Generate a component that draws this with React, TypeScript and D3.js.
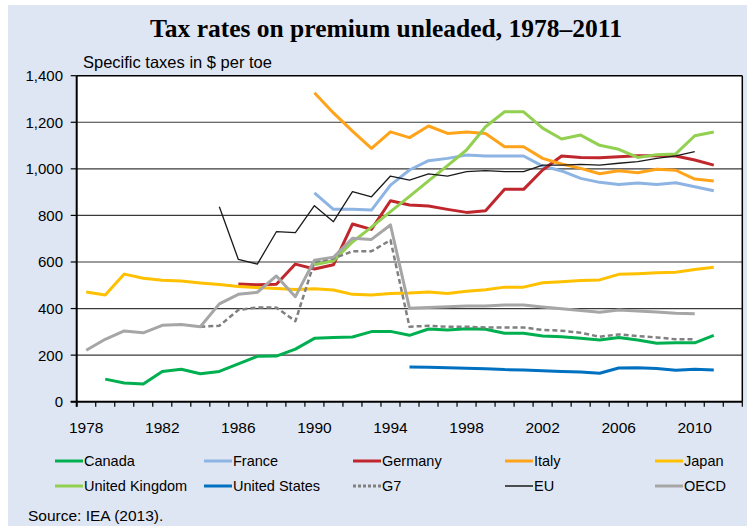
import React from "react"
import * as d3 from "d3"

const years = [
  1978, 1979, 1980, 1981, 1982, 1983, 1984, 1985, 1986, 1987, 1988, 1989,
  1990, 1991, 1992, 1993, 1994, 1995, 1996, 1997, 1998, 1999, 2000, 2001,
  2002, 2003, 2004, 2005, 2006, 2007, 2008, 2009, 2010, 2011,
]
const tickYears = [1978, 1982, 1986, 1990, 1994, 1998, 2002, 2006, 2010]
const yTicks = [0, 200, 400, 600, 800, 1000, 1200, 1400]

// specific taxes, $ per toe (null = no data)
const canada = [null, 97, 80, 76, 130, 139, 120, 130, 162, 195, 196, 226, 272, 276, 278, 301, 302, 285, 312, 308, 313, 311, 294, 294, 282, 279, 272, 265, 276, 265, 251, 253, 253, 285]
const france = [null, null, null, null, null, null, null, null, null, null, null, null, 897, 826, 826, 823, 930, 995, 1035, 1045, 1059, 1055, 1055, 1055, 1012, 991, 959, 942, 933, 939, 933, 940, 923, 906]
const germany = [null, null, null, null, null, null, null, null, 505, 502, 504, 591, 570, 588, 763, 740, 863, 845, 840, 826, 813, 820, 912, 912, 995, 1055, 1049, 1048, 1052, 1056, 1056, 1055, 1038, 1016]
const italy = [null, null, null, null, null, null, null, null, null, null, null, null, 1327, 1240, 1162, 1088, 1159, 1134, 1184, 1152, 1158, 1152, 1095, 1095, 1045, 1021, 1002, 979, 992, 983, 998, 994, 956, 948]
const japan = [471, 458, 548, 530, 522, 518, 510, 503, 495, 490, 486, 482, 485, 480, 461, 458, 465, 467, 471, 465, 474, 481, 492, 492, 511, 515, 520, 523, 547, 550, 554, 556, 568, 577]
const uk = [null, null, null, null, null, null, null, null, null, null, null, null, 588, 605, 686, 750, 816, 882, 948, 1014, 1081, 1181, 1245, 1245, 1175, 1128, 1145, 1101, 1084, 1049, 1061, 1064, 1142, 1158]
const us = [null, null, null, null, null, null, null, null, null, null, null, null, null, null, null, null, null, 149, 148, 146, 144, 142, 138, 136, 133, 130, 128, 122, 145, 146, 143, 135, 139, 136]
const g7 = [null, null, null, null, null, null, 322, 326, 394, 405, 404, 346, 600, 615, 646, 646, 694, 322, 326, 322, 322, 319, 319, 319, 308, 305, 296, 279, 289, 282, 276, 268, 268, null]
const eu = [null, null, null, null, null, null, null, 837, 611, 591, 730, 726, 842, 773, 902, 880, 969, 952, 978, 969, 988, 992, 988, 988, 1016, 1016, 1019, 1016, 1024, 1031, 1045, 1056, 1074, null]
const oecd = [221, 268, 304, 296, 328, 332, 322, 420, 461, 470, 540, 451, 608, 620, 702, 697, 759, 401, 405, 408, 411, 411, 415, 415, 407, 399, 392, 384, 394, 390, 385, 380, 378, null]

const series = [
  { name: "Canada", values: canada, color: "#00b050", width: 3 },
  { name: "France", values: france, color: "#8db4e2", width: 3 },
  { name: "Germany", values: germany, color: "#c0272d", width: 3 },
  { name: "Italy", values: italy, color: "#ffa31a", width: 3 },
  { name: "Japan", values: japan, color: "#ffc000", width: 3 },
  { name: "United Kingdom", values: uk, color: "#92d050", width: 3 },
  { name: "United States", values: us, color: "#0070c0", width: 3 },
  { name: "G7", values: g7, color: "#808080", width: 2.5, dash: "5,3" },
  { name: "EU", values: eu, color: "#1a1a1a", width: 1.3 },
  { name: "OECD", values: oecd, color: "#a6a6a6", width: 3 },
]

const W = 752
const H = 529
const M = { left: 76.7, right: 742.3, top: 75.7, bottom: 401.7 }
const sans = "'Liberation Sans', Arial, sans-serif"

export default function App() {
  const x = d3.scaleBand<number>()
    .domain(d3.range(1978, 2013))
    .range([M.left, M.right])
    .padding(0)
  const y = d3.scaleLinear().domain([0, 1400]).range([M.bottom, M.top])
  const cx = (yr: number) => (x(yr) as number) + x.bandwidth() / 2

  const line = d3.line<number | null>()
    .defined(d => d !== null)
    .x((_, i) => cx(years[i]))
    .y(d => y(d as number))

  const legendCols = [55, 204, 353, 505, 655]
  const legendRows = [461, 486]

  return (
    <svg width={W} height={H} style={{ position: "absolute", left: 0, top: 0 }}>
      <rect x={0} y={0} width={W} height={H} fill="#fff" />
      <rect x={8} y={5} width={739} height={521} fill="#dfe6f3" />
      <text x={386} y={37} textAnchor="middle"
        style={{ fontFamily: "'Liberation Serif', 'Times New Roman', serif", fontWeight: "bold", fontSize: 25.5 }}>
        Tax rates on premium unleaded, 1978–2011
      </text>
      <text x={83} y={68} style={{ fontFamily: sans, fontSize: 16.5 }} fill="#000">
        Specific taxes in $ per toe
      </text>

      <rect x={M.left} y={M.top} width={M.right - M.left} height={M.bottom - M.top} fill="#fff" />

      {yTicks.filter(t => t > 0 && t < 1400).map(t => (
        <line key={t} x1={M.left} x2={M.right} y1={y(t)} y2={y(t)} stroke="#3a3a3a" strokeWidth={1.2} />
      ))}

      {series.map(s => (
        <path key={s.name} d={line(s.values) || ""} fill="none" stroke={s.color}
          strokeWidth={s.width} strokeDasharray={s.dash} strokeLinejoin="round" />
      ))}

      {/* frame */}
      <line x1={M.left} x2={M.right} y1={M.top} y2={M.top} stroke="#000" strokeWidth={1.5} />
      <line x1={M.right} x2={M.right} y1={M.top} y2={M.bottom} stroke="#000" strokeWidth={1.5} />
      <line x1={M.left} x2={M.left} y1={M.top} y2={M.bottom + 5} stroke="#000" strokeWidth={2} />
      <line x1={M.left - 6} x2={M.right} y1={M.bottom} y2={M.bottom} stroke="#000" strokeWidth={2} />

      {yTicks.map(t => (
        <g key={t}>
          <line x1={M.left - 6} x2={M.left} y1={y(t)} y2={y(t)} stroke="#000" strokeWidth={1.2} />
          <text x={63} y={y(t) + 5.5} textAnchor="end" style={{ fontFamily: sans, fontSize: 15 }}>
            {d3.format(",")(t)}
          </text>
        </g>
      ))}

      {d3.range(1978, 2014).map(yr => {
        const px = yr === 2013 ? M.right : (x(yr) as number)
        return <line key={yr} x1={px} x2={px} y1={M.bottom} y2={M.bottom + 5} stroke="#000" strokeWidth={1.2} />
      })}
      {tickYears.map(yr => (
        <text key={yr} x={cx(yr)} y={433} textAnchor="middle" style={{ fontFamily: sans, fontSize: 15.5 }}>
          {yr}
        </text>
      ))}

      {series.map((s, i) => {
        const lx = legendCols[i % 5]
        const ly = legendRows[Math.floor(i / 5)]
        return (
          <g key={s.name}>
            <line x1={lx} x2={lx + 28} y1={ly} y2={ly} stroke={s.color}
              strokeWidth={s.name === "EU" ? 1.5 : 3} strokeDasharray={s.dash ? "3,2" : undefined} />
            <text x={lx + 29} y={ly + 5} style={{ fontFamily: sans, fontSize: 14.5 }}>{s.name}</text>
          </g>
        )
      })}

      <text x={28} y={521} style={{ fontFamily: sans, fontSize: 15.5 }}>Source: IEA (2013).</text>
    </svg>
  )
}
